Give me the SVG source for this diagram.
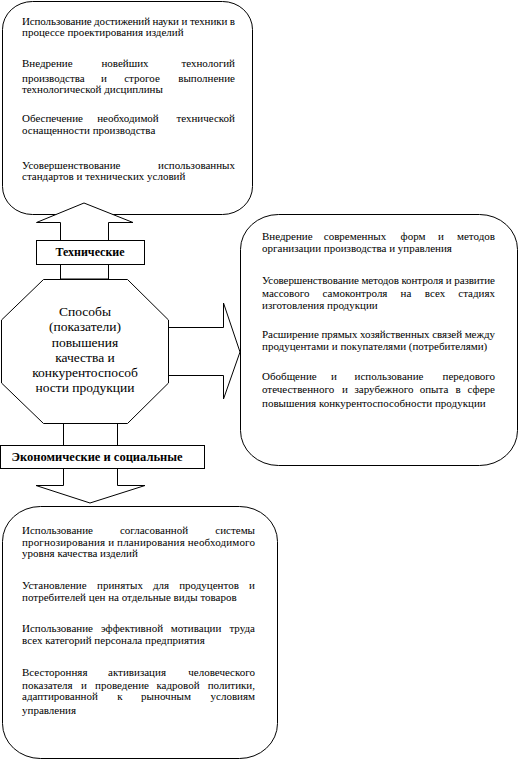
<svg xmlns="http://www.w3.org/2000/svg" width="519" height="762" viewBox="0 0 519 762">
<style>
.s{fill:#fff;stroke:#000;stroke-width:1}
.t{font-family:"Liberation Serif","Times New Roman",serif;font-size:11px;fill:#000}
.o{font-family:"Liberation Serif","Times New Roman",serif;font-size:13.5px;fill:#000;text-anchor:middle}
.b{font-family:"Liberation Serif","Times New Roman",serif;font-size:12px;font-weight:bold;fill:#000;text-anchor:middle}
.m{text-anchor:middle}
.e{text-anchor:end}
</style>
<rect width="519" height="762" fill="#fff"/>
<g id="top-box">
<rect class="s" x="2.5" y="1.5" width="250" height="213" rx="30" ry="28"/>
<text class="t" x="22" y="25" textLength="213" lengthAdjust="spacing">Использование достижений науки и техники в</text>
<text class="t" x="22" y="36">процессе проектирования изделий</text>
<text class="t" y="67"><tspan x="22">Внедрение</tspan><tspan x="125" class="m">новейших</tspan><tspan x="235" class="e">технологий</tspan></text>
<text class="t" y="82"><tspan x="22">производства</tspan><tspan x="104" class="m">и</tspan><tspan x="142" class="m">строгое</tspan><tspan x="235" class="e">выполнение</tspan></text>
<text class="t" x="22" y="93">технологической дисциплины</text>
<text class="t" y="122"><tspan x="22">Обеспечение</tspan><tspan x="128" class="m">необходимой</tspan><tspan x="235" class="e">технической</tspan></text>
<text class="t" x="22" y="134">оснащенности производства</text>
<text class="t" y="169"><tspan x="22">Усовершенствование</tspan><tspan x="235" class="e">использованных</tspan></text>
<text class="t" x="22" y="180">стандартов и технических условий</text>
</g>
<g id="right-box">
<rect class="s" x="240.5" y="214.5" width="277" height="251" rx="38" ry="35"/>
<text class="t" y="240"><tspan x="262">Внедрение</tspan><tspan x="355" class="m">современных</tspan><tspan x="413" class="m">форм</tspan><tspan x="441" class="m">и</tspan><tspan x="495" class="e">методов</tspan></text>
<text class="t" x="262" y="252">организации производства и управления</text>
<text class="t" x="262" y="284" textLength="233" lengthAdjust="spacing">Усовершенствование методов контроля и развитие</text>
<text class="t" y="297"><tspan x="262">массового</tspan><tspan x="355" class="m">самоконтроля</tspan><tspan x="406" class="m">на</tspan><tspan x="435" class="m">всех</tspan><tspan x="495" class="e">стадиях</tspan></text>
<text class="t" x="262" y="309">изготовления продукции</text>
<text class="t" x="262" y="338" textLength="233" lengthAdjust="spacing">Расширение прямых хозяйственных связей между</text>
<text class="t" x="262" y="350">продуцентами и покупателями (потребителями)</text>
<text class="t" y="380"><tspan x="262">Обобщение</tspan><tspan x="334" class="m">и</tspan><tspan x="389" class="m">использование</tspan><tspan x="495" class="e">передового</tspan></text>
<text class="t" y="393"><tspan x="262">отечественного</tspan><tspan x="345" class="m">и</tspan><tspan x="384" class="m">зарубежного</tspan><tspan x="434" class="m">опыта</tspan><tspan x="458" class="m">в</tspan><tspan x="495" class="e">сфере</tspan></text>
<text class="t" x="262" y="407">повышения конкурентоспособности продукции</text>
</g>
<g id="bottom-box">
<rect class="s" x="2.5" y="506.5" width="275" height="252" rx="38" ry="35"/>
<text class="t" y="534"><tspan x="22">Использование</tspan><tspan x="154" class="m">согласованной</tspan><tspan x="255" class="e">системы</tspan></text>
<text class="t" x="22" y="546" textLength="233" lengthAdjust="spacing">прогнозирования и планирования необходимого</text>
<text class="t" x="22" y="557">уровня качества изделий</text>
<text class="t" y="589"><tspan x="22">Установление</tspan><tspan x="120" class="m">принятых</tspan><tspan x="161" class="m">для</tspan><tspan x="209" class="m">продуцентов</tspan><tspan x="255" class="e">и</tspan></text>
<text class="t" x="22" y="601">потребителей цен на отдельные виды товаров</text>
<text class="t" y="632"><tspan x="22">Использование</tspan><tspan x="132" class="m">эффективной</tspan><tspan x="196" class="m">мотивации</tspan><tspan x="255" class="e">труда</tspan></text>
<text class="t" x="22" y="644">всех категорий персонала предприятия</text>
<text class="t" y="676"><tspan x="22">Всесторонняя</tspan><tspan x="137" class="m">активизация</tspan><tspan x="255" class="e">человеческого</tspan></text>
<text class="t" y="689"><tspan x="22">показателя</tspan><tspan x="84" class="m">и</tspan><tspan x="122" class="m">проведение</tspan><tspan x="178" class="m">кадровой</tspan><tspan x="255" class="e">политики,</tspan></text>
<text class="t" y="700"><tspan x="22">адаптированной</tspan><tspan x="120" class="m">к</tspan><tspan x="166" class="m">рыночным</tspan><tspan x="255" class="e">условиям</tspan></text>
<text class="t" x="22" y="714">управления</text>
</g>
<g id="connectors">
<polygon class="s" points="60.5,279 60.5,222.5 36.5,222.5 84,203 133,222.5 108.5,222.5 108.5,279"/>
<polygon class="s" points="168,327.5 223.5,327.5 223.5,303 240,352 223.5,399 223.5,375.5 168,375.5"/>
<polygon class="s" points="63.5,423 63.5,485.5 36,485.5 90,503 145,485.5 117.5,485.5 117.5,423"/>
</g>
<g id="center-octagon">
<polygon class="s" points="43.5,279.5 127.5,279.5 168.5,320 168.5,383 127.5,423.5 43.5,423.5 1.5,383 1.5,320"/>
<text class="o" x="85" y="316">Способы</text>
<text class="o" x="85" y="331">(показатели)</text>
<text class="o" x="85" y="347">повышения</text>
<text class="o" x="85" y="362">качества и</text>
<text class="o" x="85" y="377">конкурентоспособ</text>
<text class="o" x="85" y="392">ности продукции</text>
</g>
<g id="label-tech">
<rect class="s" x="36.5" y="240.5" width="108" height="24"/>
<text class="b" x="90" y="256">Технические</text>
</g>
<g id="label-econ">
<rect class="s" x="0.5" y="445.5" width="204" height="23"/>
<text class="b" x="97" y="461" style="font-size:12.5px">Экономические и социальные</text>
</g>
</svg>
